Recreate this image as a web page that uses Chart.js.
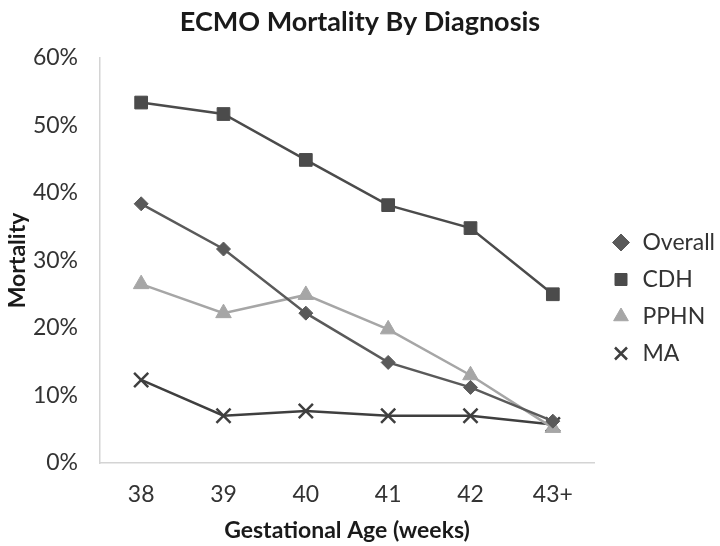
<!DOCTYPE html>
<html>
<head>
<meta charset="utf-8">
<script src="https://cdn.jsdelivr.net/npm/chart.js@4/dist/chart.umd.min.js"></script>
<style>
  html, body { margin: 0; padding: 0; background: #fff; }
  #wrap { width: 720px; height: 546px; }
</style>
</head>
<body>
<div id="wrap"><canvas id="chart"></canvas></div>
<script>
// ==================== DATA ====================
const ageLabels = ['38', '39', '40', '41', '42', '43+'];
const overall = [0.384, 0.317, 0.222, 0.149, 0.112, 0.062];
const cdh = [0.534, 0.517, 0.449, 0.382, 0.348, 0.250];
const pphn = [0.265, 0.222, 0.249, 0.198, 0.130, 0.052];
const ma = [0.123, 0.070, 0.077, 0.070, 0.070, 0.057];

// Theme colours (greyscale, like the printed figure)
const colors = {
    overall: '#5a5a5a',
    cdh: '#4b4b4b',
    pphn: '#a6a6a6',
    ma: '#3f3f3f',
    axis: '#d4d4d4',
    text: '#333333'
};

const FONT = "Lato, 'Open Sans', sans-serif";
Chart.defaults.font.family = FONT;
Chart.defaults.color = colors.text;

// nudge the right-hand legend down/right a little, Excel-style
const legendShift = {
    id: 'legendShift',
    afterLayout(chart) {
        const lg = chart.legend;
        if (!lg) return;
        lg.top += 25;
        lg.bottom += 25;
        lg.left += 3;
        lg.right += 3;
    }
};

function series(label, data, color, style, radius) {
    return {
        label: label,
        data: data,
        borderColor: color,
        backgroundColor: color,
        borderWidth: 2.5,
        pointStyle: style,
        pointRadius: radius,
        pointHoverRadius: radius,
        pointBorderWidth: style === 'crossRot' ? 2.5 : 1,
        pointBorderColor: color,
        pointBackgroundColor: color,
        tension: 0
    };
}

new Chart(document.getElementById('chart'), {
    type: 'line',
    data: {
        labels: ageLabels,
        datasets: [
            series('Overall', overall, colors.overall, 'rectRot', 7),
            series('CDH', cdh, colors.cdh, 'rect', 9),
            series('PPHN', pphn, colors.pphn, 'triangle', 9),
            series('MA', ma, colors.ma, 'crossRot', 10)
        ]
    },
    options: {
        responsive: true,
        maintainAspectRatio: false,
        animation: false,
        layout: { padding: 0 },
        plugins: {
            title: {
                display: true,
                text: 'ECMO Mortality By Diagnosis',
                color: '#1a1a1a',
                font: { size: 27, weight: 'bold', family: FONT },
                padding: { top: 6, bottom: 19.6 }
            },
            legend: {
                position: 'right',
                maxWidth: 126,
                labels: {
                    usePointStyle: true,
                    boxWidth: 20,
                    boxHeight: 12,
                    padding: 14,
                    color: colors.text,
                    font: { size: 23, family: FONT }
                }
            },
            tooltip: { enabled: false }
        },
        scales: {
            x: {
                offset: true,
                grid: { display: false, drawTicks: false },
                border: { display: true, color: colors.axis, width: 1.5 },
                ticks: { padding: 18, color: colors.text, font: { size: 23, family: FONT } },
                title: {
                    display: true,
                    text: 'Gestational Age (weeks)',
                    color: '#1a1a1a',
                    font: { size: 23, weight: 'bold', family: FONT },
                    padding: { top: 4, bottom: 2 }
                },
                afterFit(scale) { scale.height = 83; }
            },
            y: {
                min: 0,
                max: 0.6,
                grid: { display: false, drawTicks: false },
                border: { display: true, color: colors.axis, width: 1.5 },
                ticks: {
                    stepSize: 0.1,
                    padding: 22,
                    color: colors.text,
                    font: { size: 23, family: FONT },
                    callback: v => Math.round(v * 100) + '%'
                },
                title: {
                    display: true,
                    text: 'Mortality',
                    color: '#1a1a1a',
                    font: { size: 23, weight: 'bold', family: FONT },
                    padding: { top: 4, bottom: 4 }
                },
                afterFit(scale) { scale.width = 100; }
            }
        }
    },
    plugins: [legendShift]
});
</script>
</body>
</html>
